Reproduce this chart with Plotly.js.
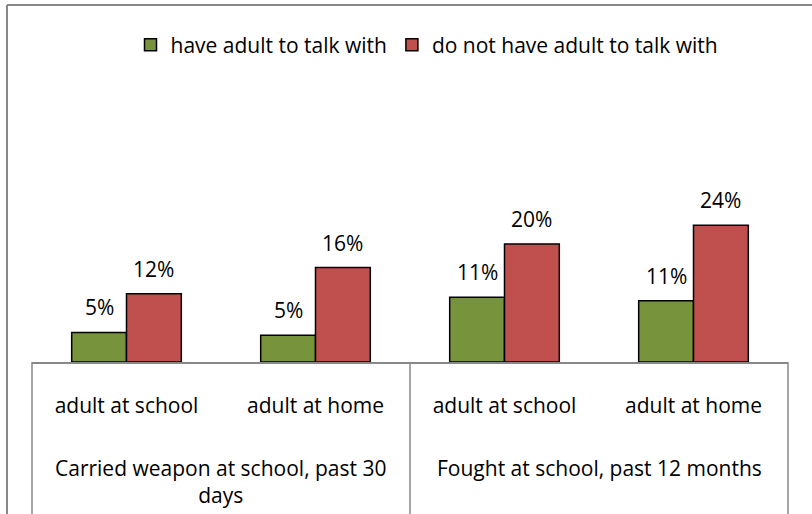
<!DOCTYPE html>
<html>
<head>
<meta charset="utf-8">
<script src="https://cdn.plot.ly/plotly-3.0.1.min.js"></script>
<style>html,body{margin:0;padding:0;background:#fff;}#chart{width:812px;height:514px;}</style>
</head>
<body>
<div id="chart"></div>
<script>
const subCategories = ["adult at school", "adult at home", "adult at school", "adult at home"];
const groups = ["Carried weapon at school, past 30<br>days", "Fought at school, past 12 months"];
const haveAdult = [5.1, 4.6, 11.2, 10.6];
const noAdult = [11.8, 16.3, 20.4, 23.6];
const seriesNames = ["have adult to talk with", "do not have adult to talk with"];

const FONT = "'Open Sans', sans-serif";
const FS = 21;
const xIdx = subCategories.map((_, i) => i);
const BARGAP = 0.42;
const half = (1 - BARGAP) / 4;

const traces = [
  {type: 'bar', name: seriesNames[0], x: xIdx, y: haveAdult,
   marker: {color: '#77933C', line: {color: '#000', width: 1.5}}},
  {type: 'bar', name: seriesNames[1], x: xIdx, y: noAdult,
   marker: {color: '#C0504D', line: {color: '#000', width: 1.5}}}
];

const H = 357;
const L = 32, W = 756;
const px = v => (v - L) / W;
const py = v => (362 - v) / H;

const valueLabels = [];
[haveAdult, noAdult].forEach((arr, s) => {
  arr.forEach((v, i) => {
    valueLabels.push({xref: 'x', yref: 'y', x: i + (s === 0 ? -half : half), y: v,
      yanchor: 'bottom', yshift: 9, showarrow: false, text: Math.round(v) + '%',
      font: {family: FONT, size: FS, color: '#000'}});
  });
});

const layout = {
  width: 812, height: 514,
  margin: {l: L, r: 812 - L - W, t: 5, b: 152},
  paper_bgcolor: '#fff', plot_bgcolor: '#fff',
  font: {family: FONT, size: FS, color: '#000'},
  barmode: 'group', bargap: BARGAP, bargroupgap: 0,
  showlegend: true,
  legend: {orientation: 'h', x: px(427), xanchor: 'center', y: py(45), yanchor: 'middle',
           font: {family: FONT, size: FS, color: '#000'}, itemwidth: 30, tracegroupgap: 0},
  xaxis: {range: [-0.5, 3.5], tickvals: xIdx, ticktext: subCategories,
          showline: true, linecolor: '#888', linewidth: 1.5, showgrid: false, zeroline: false,
          ticks: 'outside', ticklen: 24, tickcolor: 'rgba(0,0,0,0)',
          tickfont: {family: FONT, size: FS, color: '#000'}, fixedrange: true},
  yaxis: {range: [0, H / 5.79], visible: false, showgrid: false, zeroline: false, fixedrange: true},
  shapes: [
    {type: 'line', xref: 'paper', yref: 'paper', x0: 0, x1: 0, y0: 0, y1: py(520), line: {color: '#888', width: 1.5}},
    {type: 'line', xref: 'paper', yref: 'paper', x0: 1, x1: 1, y0: 0, y1: py(520), line: {color: '#888', width: 1.5}},
    {type: 'line', xref: 'paper', yref: 'paper', x0: px(410), x1: px(410), y0: 0, y1: py(520), line: {color: '#888', width: 1.5}},
    {type: 'line', xref: 'paper', yref: 'paper', x0: px(7), x1: px(7), y0: py(5), y1: py(520), line: {color: '#888', width: 2}},
    {type: 'line', xref: 'paper', yref: 'paper', x0: px(7), x1: px(820), y0: py(5), y1: py(5), line: {color: '#888', width: 2}}
  ],
  annotations: valueLabels.concat([
    {xref: 'paper', yref: 'paper', x: px(221), xanchor: 'center', y: py(452), yanchor: 'top', showarrow: false,
     text: groups[0], font: {family: FONT, size: FS, color: '#000'}, align: 'center'},
    {xref: 'paper', yref: 'paper', x: px(599), xanchor: 'center', y: py(452), yanchor: 'top', showarrow: false,
     text: groups[1], font: {family: FONT, size: FS, color: '#000'}, align: 'center'}
  ])
};

Plotly.newPlot('chart', traces, layout, {displayModeBar: false, staticPlot: true});
</script>
</body>
</html>
